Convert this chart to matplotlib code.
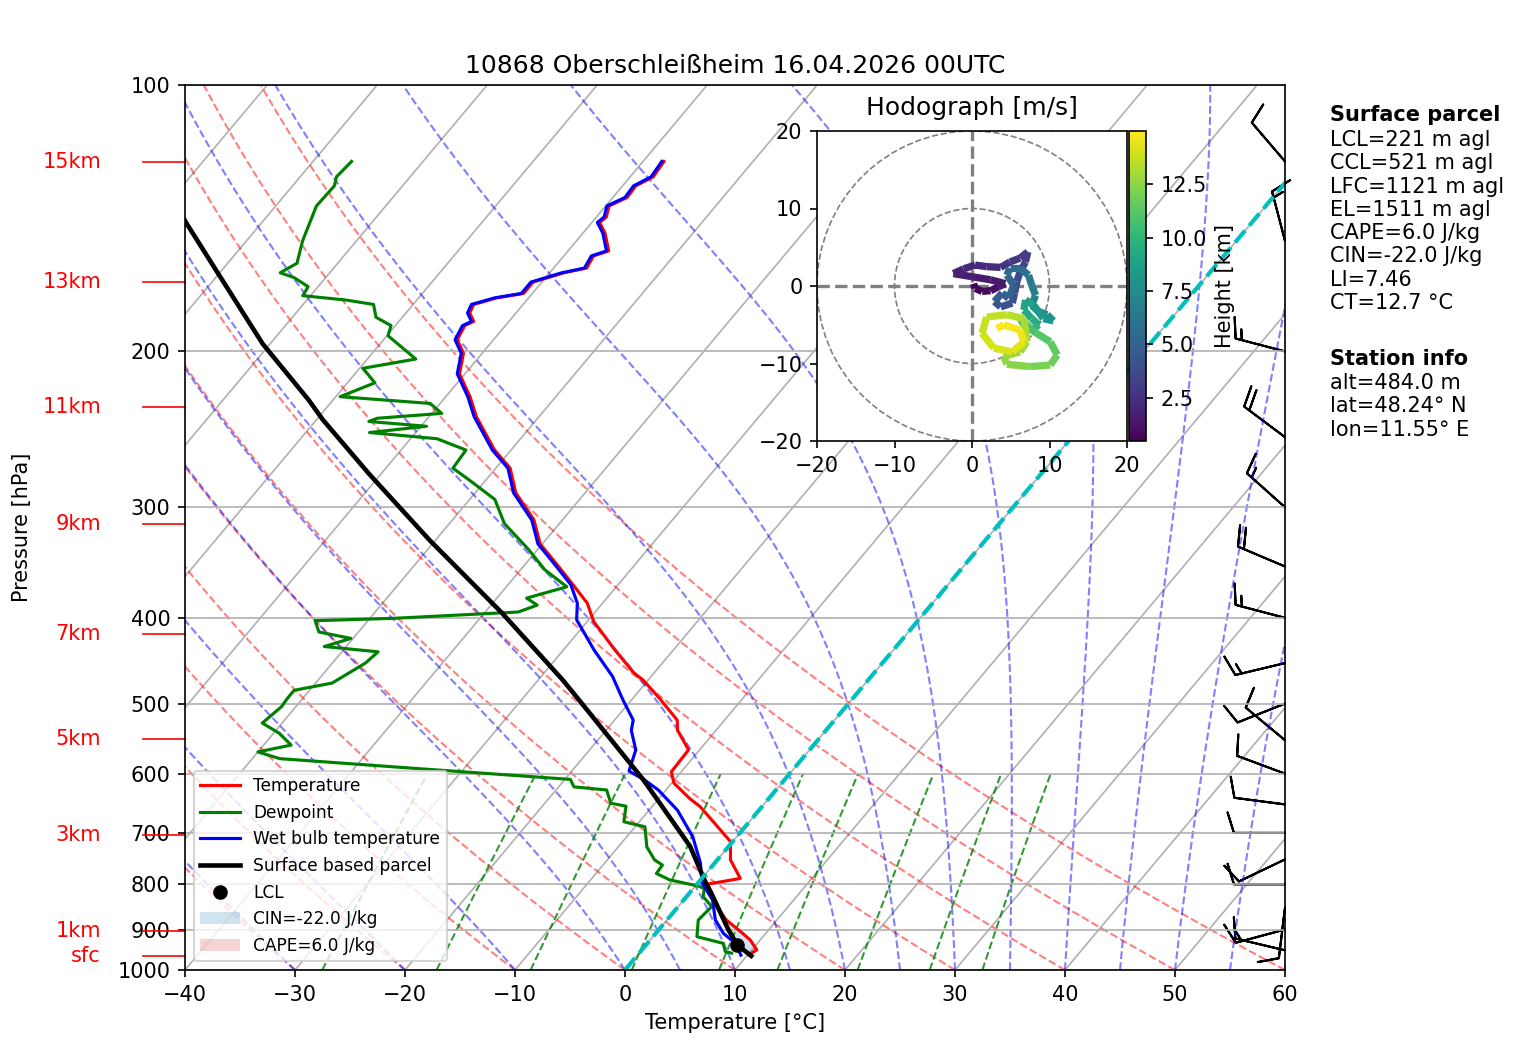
import numpy as np
import matplotlib
matplotlib.use('Agg')
import matplotlib.pyplot as plt
import matplotlib.transforms as mtransforms
from matplotlib.collections import LineCollection
from matplotlib.patches import Circle
from matplotlib.ticker import FixedLocator, NullLocator, ScalarFormatter

TITLE = '10868 Oberschleißheim 16.04.2026 00UTC'

# ------------------------------------------------------------
# sounding data (hPa, degC)
# ------------------------------------------------------------
temp_p = [961, 949, 925, 909, 878, 848, 801, 788, 751, 716, 674, 654, 640, 615, 597,
          564, 536, 522, 493, 470, 462, 435, 404, 385, 367, 350, 330, 310, 289, 271,
          258.5, 237, 225, 212, 201, 194, 187, 185, 181, 177, 174, 172, 167, 163, 161,
          156, 154, 147, 143, 141, 137, 134, 130, 127, 122]
temp_t = [10.1, 10.45, 9.1, 7.9, 5.4, 3.5, 0.7, 3.5, 1.2, -0.2, -3.8, -5.6, -7.2, -9.8, -10.9,
          -11.0, -13.5, -14.3, -17.6, -20.5, -21.8, -25.3, -29.4, -31.4, -34.1, -36.8, -40.2, -42.6, -46.3, -48.7,
          -51.5, -55.7, -57.8, -60.5, -61.7, -63.3, -63.7, -63.2, -64.2, -64.5, -62.9, -60.8, -60.8, -58.7, -57.0,
          -57.3, -56.3, -58.0, -59.3, -59.1, -59.7, -58.7, -58.8, -57.9, -58.1]

dewp_p = [957, 953, 933, 917, 878, 848, 826, 809, 804, 791, 778, 761, 751, 726, 689,
          680, 653, 648, 626, 621, 609, 592, 577, 567, 557, 540, 526, 504, 493, 483,
          474, 450, 437, 431, 422, 415, 403, 400.5, 394, 387, 380, 369, 353, 335, 313,
          294, 281, 271, 258.5, 251, 247, 243, 240, 238, 235, 229, 225, 217, 209, 204,
          200, 192, 187, 183, 177, 175, 173, 169, 165, 163, 159, 150, 141.5, 137, 130,
          127, 122]
dewp_t = [8.4, 7.7, 6.9, 4.0, 2.85, 3.05, 1.5, 1.0, 0.3, -2.8, -4.5, -4.6, -5.7, -7.4, -9.1,
          -11.4, -12.4, -14.0, -15.4, -18.6, -19.5, -34.3, -47.5, -50.0, -47.5, -49.5, -51.8, -51.3, -51.4, -51.4,
          -48.5, -47.0, -46.7, -52.0, -50.2, -53.6, -54.8, -47.8, -37.0, -35.8, -37.3, -34.5, -37.8, -40.8, -45.0,
          -47.7, -51.1, -53.9, -54.1, -57.6, -64.2, -59.5, -65.1, -64.6, -59.1, -60.9, -69.6, -67.5, -69.7, -65.6,
          -67.0, -69.9, -70.4, -72.4, -73.6, -76.4, -80.7, -80.9, -82.9, -84.5, -83.7, -84.9, -85.8, -86.3, -86.2,
          -86.7, -86.5]

wetb_p = [962, 933, 909, 878, 833, 798, 757, 707, 660, 626, 610, 596, 564, 536, 522,
          495, 466, 435, 402, 385, 367, 350, 330, 310, 289, 271, 258.5, 237, 225, 212,
          201, 194, 187, 185, 181, 177, 174, 172, 167, 163, 161, 156, 154, 147, 143,
          141, 137, 134, 130, 127, 122]
wetb_t = [9.4, 8.0, 6.15, 4.4, 2.6, 0.4, -1.3, -4.0, -7.4, -10.7, -12.7, -14.8, -15.8, -17.7, -18.3,
          -20.8, -23.5, -27.2, -31.1, -32.3, -34.3, -37.0, -40.4, -42.8, -46.5, -48.9, -51.7, -55.9, -58.0, -60.7,
          -61.9, -63.5, -63.9, -63.4, -64.4, -64.7, -63.1, -61.0, -61.0, -58.9, -57.2, -57.5, -56.5, -58.2, -59.5,
          -59.3, -59.9, -58.9, -59.0, -58.1, -58.3]

parcel_p = [964, 937, 900, 819, 791, 725, 610, 495, 470, 395, 327, 275, 239, 227, 196, 162, 143, 122]
parcel_t = [10.4, 8.3, 6.3, 2.0, 0.35, -3.5, -12.8, -24.8, -27.8, -38.4, -50.5, -61.1, -69.4, -72.2,
            -80.7, -90.5, -96.9, -104.8]

lcl_p, lcl_t = 937, 8.3
cape_val, cin_val = 6.0, -22.0

# wind barbs (hPa, knots)
barb_p = [950, 900, 850, 800, 750, 700, 650, 600, 550, 500, 450, 400, 350, 300, 250, 200, 150, 122]
barb_u = [9.7, 14.5, 1.2, 10.0, 9.0, 10.0, 9.9, 9.4, 7.7, 9.3, 14.6, 14.5, 18.4, 11.2, 16.0, 14.5, 3.8, 6.5]
barb_v = [-2.3, 3.9, 9.9, 0.0, 4.3, 0.0, -1.3, -3.5, -6.4, 3.7, 3.5, -3.8, -7.8, -10.0, -12.0, -3.8, -14.5, -7.6]

# hodograph (km MSL, m/s)
hod_h = [0.48, 0.6, 0.8, 1.0, 1.2, 1.35, 1.5, 1.65, 1.8, 1.95, 2.1, 2.3, 2.5, 2.7, 2.9, 3.1,
         3.3, 3.5, 3.7, 3.9, 4.1, 4.3, 4.5, 4.7, 4.9, 5.1, 5.3, 5.5, 5.8, 6.1, 6.4, 6.7,
         7.0, 7.3, 7.6, 7.9, 8.2, 8.5, 8.8, 9.1, 9.4, 9.7, 10.0, 10.3, 10.6, 11.0, 11.3,
         11.6, 11.9, 12.2, 12.5, 12.7, 12.9, 13.1, 13.3, 13.5, 13.7, 13.9, 14.1, 14.3,
         14.5, 14.7, 14.85, 15.0]
hod_u = [0.2, 0.4, 1.3, 2.4, 3.4, 4.3, 2.4, 0.0, -2.4, -1.1, 0.4, 1.9, 3.7, 4.9, 6.2, 7.2,
         6.9, 6.2, 5.8, 5.5, 5.2, 3.7, 2.9, 3.9, 4.7, 5.4, 4.5, 4.9, 6.2, 7.3, 7.7, 8.2,
         7.7, 8.6, 9.7, 10.5, 9.2, 8.0, 6.9, 6.7, 7.7, 8.6, 7.5, 6.7, 6.2, 8.0, 10.1,
         11.0, 10.1, 7.5, 4.5, 4.1, 6.2, 7.1, 6.7, 4.5, 1.9, 1.3, 2.8, 5.2,
         6.7, 6.2, 4.1, 3.2]
hod_v = [0.3, -0.3, -0.7, -0.6, -0.1, 0.3, 0.8, 1.2, 1.6, 2.2, 2.7, 2.5, 2.4, 3.1, 3.6, 4.4,
         3.1, 1.8, 0.6, -0.9, -2.2, -2.7, -2.0, -0.9, -1.6, 0.1, 1.4, 2.3, 2.3, 1.4, 0.1, -1.2,
         -2.5, -3.3, -3.7, -4.5, -4.2, -2.5, -1.8, -3.1, -4.2, -5.0, -5.9, -5.0, -4.2, -5.9, -7.2,
         -8.9, -10.2, -10.4, -10.1, -9.1, -8.5, -7.2, -4.2, -3.7, -4.0, -6.1, -8.0, -8.5,
         -7.2, -5.7, -5.0, -5.5]

# height markers on the left side
height_labels = ['15km', '13km', '11km', '9km', '7km', '5km', '3km', '1km', 'sfc']
height_p = [122.1, 166.9, 231.1, 313.3, 417.3, 548.3, 703.7, 903.5, 964.2]

parcel_info = ['LCL=221 m agl', 'CCL=521 m agl', 'LFC=1121 m agl', 'EL=1511 m agl',
               'CAPE=6.0 J/kg', 'CIN=-22.0 J/kg', 'LI=7.46', 'CT=12.7 °C']
station_info = ['alt=484.0 m', 'lat=48.24° N', 'lon=11.55° E']

# background line sets
dry_t0 = np.arange(-40, 61, 10)
moist_t0 = np.concatenate((np.arange(-40, 0, 10), np.arange(0, 61, 5)))
mix_w = [0.0004, 0.001, 0.002, 0.004, 0.007, 0.01, 0.016, 0.024, 0.032]
isotherms = np.arange(-150, 61, 10)

SKEW_TAN = 0.6747


def moist_lapse(t0, p):
    Rd, Cp, Lv, eps = 287.04, 1005.7, 2.501e6, 0.622

    def f(T, pp):
        es = 6.112 * np.exp(17.67 * (T - 273.15) / (T - 29.65))
        rs = eps * es / (pp - es)
        return (Rd * T + Lv * rs) / (Cp + Lv * Lv * rs * eps / (Rd * T * T)) / pp

    T = np.asarray(t0, float) + 273.15
    out = [T.copy()]
    for i in range(len(p) - 1):
        h = p[i + 1] - p[i]
        k1 = f(T, p[i])
        k2 = f(T + h / 2 * k1, p[i] + h / 2)
        k3 = f(T + h / 2 * k2, p[i] + h / 2)
        k4 = f(T + h * k3, p[i + 1])
        T = T + h / 6 * (k1 + 2 * k2 + 2 * k3 + k4)
        out.append(T.copy())
    return np.array(out) - 273.15


# ============================================================
# FIGURE
# ============================================================
fig = plt.figure(figsize=(1517 / 150, 1056 / 150), dpi=150)
ax = fig.add_axes([185 / 1517, 86 / 1056, 1100 / 1517, 885 / 1056])
ax.set_yscale('log')
ax.set_xlim(-40, 60)
ax.set_ylim(1000, 100)
ax.autoscale(False)

skew = (ax.transScale + ax.transLimits
        + mtransforms.Affine2D().skew(np.arctan(SKEW_TAN), 0) + ax.transAxes)
edge = mtransforms.blended_transform_factory(ax.transAxes, ax.transData)

# isotherms
for t in isotherms:
    ax.plot([t, t], [1000, 100], transform=skew, color='#b0b0b0', lw=0.8, zorder=0.9)

# dry adiabats
p_bg = np.linspace(1000, 100, 120)
dry = [np.column_stack(((t0 + 273.15) * (p_bg / 1000.) ** 0.2857 - 273.15, p_bg)) for t0 in dry_t0]
ax.add_collection(LineCollection(dry, colors='r', linestyles='dashed', alpha=0.5, lw=1,
                                 transform=skew, zorder=1.01))

# moist adiabats
p_m = np.linspace(1000, 100, 200)
mt = moist_lapse(moist_t0, p_m)
moist = [np.column_stack((mt[:, i], p_m)) for i in range(len(moist_t0))]
ax.add_collection(LineCollection(moist, colors='b', linestyles='dashed', alpha=0.5, lw=1,
                                 transform=skew, zorder=1.01))

# mixing ratio lines
p_w = np.linspace(1000, 600, 30)
mix = []
for w in mix_w:
    e = p_w * w / (0.622 + w)
    lg = np.log(e / 6.112)
    mix.append(np.column_stack((243.5 * lg / (17.67 - lg), p_w)))
ax.add_collection(LineCollection(mix, colors='g', linestyles='dashed', alpha=0.8, lw=1,
                                 transform=skew, zorder=1.01))

# profiles
ax.plot(temp_t, temp_p, 'r', lw=1.5, transform=skew, label='Temperature')
ax.plot(dewp_t, dewp_p, 'g', lw=1.5, transform=skew, label='Dewpoint')
ax.plot(wetb_t, wetb_p, 'b', lw=1.5, transform=skew, label='Wet bulb temperature')
ax.plot(parcel_t, parcel_p, 'k', lw=2.2, transform=skew, label='Surface based parcel')
ax.plot([lcl_t], [lcl_p], 'ko', transform=skew, label='LCL', zorder=3)

# CIN / CAPE shading on the temperature levels
tp = np.array(temp_p, float)
tt = np.array(temp_t, float)
pp_par = np.interp(-np.log(tp), -np.log(parcel_p), parcel_t)
cin_mask = (tp >= 840) & (tt >= pp_par)
cape_mask = (tp < 840) & (tp > 780) & (pp_par >= tt)
ax.fill_betweenx(tp, tt, pp_par, where=cin_mask, interpolate=True, transform=skew,
                 facecolor='tab:blue', alpha=0.2, lw=0, label=f'CIN={cin_val} J/kg')
ax.fill_betweenx(tp, tt, pp_par, where=cape_mask, interpolate=True, transform=skew,
                 facecolor='tab:red', alpha=0.2, lw=0, label=f'CAPE={cape_val} J/kg')

# 0 degC isotherm
ax.plot([0, 0], [1000, 100], transform=skew, color='c', ls='--', lw=2)

# wind barbs on the right edge
ax.barbs(np.ones(len(barb_p)), barb_p, barb_u, barb_v, transform=edge, clip_on=False, length=7)

# height markers
for lbl, hp in zip(height_labels, height_p):
    ax.plot([-0.038, 0], [hp, hp], transform=edge, color='red', lw=0.8, clip_on=False)
    ax.text(-0.0764, hp, lbl, transform=edge, color='red', ha='right', va='center', fontsize=10)

ax.yaxis.set_major_locator(FixedLocator(np.arange(100, 1001, 100)))
ax.yaxis.set_major_formatter(ScalarFormatter())
ax.yaxis.set_minor_locator(NullLocator())
ax.set_xticks(np.arange(-40, 61, 10))
ax.grid(True, axis='y', color='#b0b0b0', lw=0.8)
ax.set_xlabel('Temperature [°C]')
ax.set_ylabel('Pressure [hPa]')
ax.yaxis.set_label_coords(-0.139, 0.5)
ax.set_title(TITLE, fontsize=12)
ax.legend(loc='lower left', fontsize=8.2, handlelength=2.3)

# ------------------------------------------------------------
# hodograph inset
# ------------------------------------------------------------
hod = fig.add_axes([817 / 1517, 1 - 441 / 1056, 310 / 1517, 310 / 1056])
hod.set_xlim(-20, 20)
hod.set_ylim(-20, 20)
hod.set_xticks([-20, -10, 0, 10, 20])
hod.set_yticks([-20, -10, 0, 10, 20])
for r in (10, 20):
    hod.add_patch(Circle((0, 0), r, fill=False, ls='--', ec='grey', lw=0.8))
hod.axhline(0, color='grey', ls='--', lw=1.6, zorder=1)
hod.axvline(0, color='grey', ls='--', lw=1.6, zorder=1)
pts = np.column_stack((hod_u, hod_v)).reshape(-1, 1, 2)
segs = np.concatenate([pts[:-1], pts[1:]], axis=1)
lc = LineCollection(segs, cmap='viridis', norm=plt.Normalize(0.48, 15.0), lw=3.5, zorder=2)
lc.set_array((np.array(hod_h[:-1]) + np.array(hod_h[1:])) / 2)
hod.add_collection(lc)
hod.text(0.5, 1.075, 'Hodograph [m/s]', transform=hod.transAxes, ha='center', va='center',
         fontsize=12, bbox=dict(facecolor='white', edgecolor='none', boxstyle='square,pad=0.4'))

cax = fig.add_axes([1129 / 1517, 1 - 441 / 1056, 17 / 1517, 310 / 1056])
cb = fig.colorbar(lc, cax=cax, ticks=[2.5, 5.0, 7.5, 10.0, 12.5])
cb.set_label('Height [km]')

# ------------------------------------------------------------
# text block on the right
# ------------------------------------------------------------
tx = 1330 / 1517
fig.text(tx, 1 - 115 / 1056, 'Surface parcel', fontsize=10, weight='bold', va='center')
for i, s in enumerate(parcel_info):
    fig.text(tx, 1 - (140 + 23.3 * i) / 1056, s, fontsize=10, va='center')
fig.text(tx, 1 - 359 / 1056, 'Station info', fontsize=10, weight='bold', va='center')
for i, s in enumerate(station_info):
    fig.text(tx, 1 - (383 + 23.3 * i) / 1056, s, fontsize=10, va='center')

fig.savefig('out.png', dpi=150)
